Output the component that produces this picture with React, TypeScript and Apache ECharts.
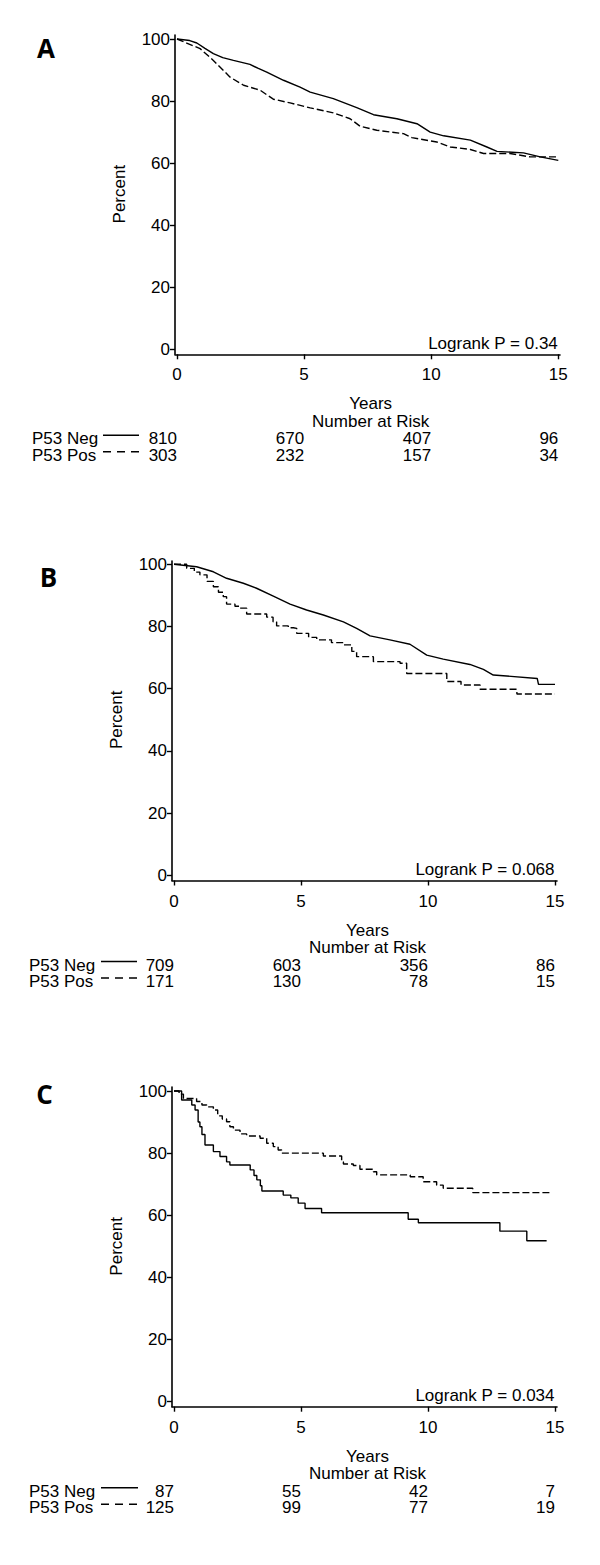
import React, { useEffect, useRef } from "react";
import * as echarts from "echarts";

// ---------------- data ----------------
const riskTimes = [0, 5, 10, 15];
const yTicks = [0, 20, 40, 60, 80, 100];
const panelLetters = ["A", "B", "C"];
const pValues = ["Logrank P = 0.34", "Logrank P = 0.068", "Logrank P = 0.034"];
const groupNames = ["P53 Neg", "P53 Pos"];

// [years, percent surviving]
const aNeg = [[0,100],[0.5,99.5],[0.78,98.7],[1.1,97],[1.43,95.3],[1.8,94],[2.22,93.1],[2.87,91.8],[3.2,90.5],[3.53,89.3],[4.19,86.7],[4.84,84.5],[5.24,82.9],[6.15,80.8],[7.07,77.9],[7.73,75.6],[8.65,74.3],[9.44,72.7],[9.96,70.0],[10.49,68.8],[11.54,67.4],[12.19,65.2],[12.59,63.8],[13.63,63.3],[14.29,62.0],[15.0,60.9]];
const aPos = [[0,100],[0.38,98.7],[0.91,96.9],[1.43,93.1],[2.09,87.7],[2.62,85.1],[3.27,83.5],[3.79,80.6],[4.45,79.4],[5.24,77.8],[6.15,76.2],[6.81,74.3],[7.2,71.9],[7.86,70.6],[8.91,69.5],[9.24,68.2],[10.22,66.8],[10.75,65.2],[11.54,64.4],[12.06,63.1],[13.1,63.1],[13.9,62.0],[15,62.0]];
const bNeg = [[0,100],[0.89,99.2],[1.55,97.6],[2.07,95.5],[2.73,93.9],[3.25,92.3],[3.91,89.8],[4.57,87.2],[5.22,85.3],[5.88,83.7],[6.67,81.5],[7.19,79.4],[7.72,77.0],[8.5,75.7],[9.29,74.3],[9.95,70.8],[10.6,69.5],[11.65,67.8],[12.18,66.2],[12.57,64.4],[14.3,63.3],[14.35,61.4],[15,61.4]];
const bPos = [[0,100],[0.5,98.7],[0.8,97.5],[1.02,96.6],[1.3,94.5],[1.55,92.8],[1.75,91],[1.94,89.6],[2.07,87.2],[2.4,86.5],[2.6,85.9],[2.86,84.0],[3.65,83.0],[3.9,81.5],[4.04,80.2],[4.5,79.6],[4.7,79.4],[4.83,77.8],[5.3,76.5],[5.62,75.7],[6.2,74.8],[6.67,74.1],[7.0,72],[7.19,70.3],[7.85,68.7],[8.9,68.2],[9.16,64.9],[10.74,62.3],[11.3,61.2],[12.05,59.8],[13.5,58.3],[15,58.3]];
const cNeg = [[0,100],[0.3,97.1],[0.7,95.5],[0.83,93.9],[0.95,90],[1.02,88.5],[1.1,86],[1.22,82.6],[1.55,80.5],[1.81,78.9],[2.07,77.2],[2.2,76.2],[3.0,74.6],[3.15,72.8],[3.26,71.4],[3.4,69.5],[3.46,67.8],[4.3,66.5],[4.6,65.6],[4.89,63.9],[5.16,62.2],[5.81,60.8],[9.22,58.7],[9.62,57.6],[12.83,54.9],[13.89,51.8],[14.67,51.8]];
const cPos = [[0,100],[0.2,99],[0.37,97.6],[0.89,96.6],[1.1,95.5],[1.29,94.9],[1.55,93.9],[1.72,92.0],[1.9,91],[2.07,90.1],[2.2,88.5],[2.34,87.4],[2.6,86.2],[2.86,85.5],[3.39,84.8],[3.65,83.2],[3.91,82.1],[4.1,81],[4.24,80.0],[5.88,79.1],[6.6,77.2],[6.67,76.5],[7.06,76.0],[7.32,74.8],[7.85,74.0],[7.98,73.0],[9.3,72.4],[9.81,70.8],[10.34,69.7],[10.6,68.7],[11.76,67.3],[14.87,67.3]];

const aNegRisk = [810, 670, 407, 96];
const aPosRisk = [303, 232, 157, 34];
const bNegRisk = [709, 603, 356, 86];
const bPosRisk = [171, 130, 78, 15];
const cNegRisk = [87, 55, 42, 7];
const cPosRisk = [125, 99, 77, 19];

const negCurves = [aNeg, bNeg, cNeg];
const posCurves = [aPos, bPos, cPos];
const negRisks = [aNegRisk, bNegRisk, cNegRisk];
const posRisks = [aPosRisk, bPosRisk, cPosRisk];
const stepModes: (false | "end")[][] = [[false, false], [false, "end"], ["end", "end"]];

// ---------------- layout (pixels) ----------------
const layouts = [
  { axisLeft: 175, x0: 177, x15: 558.3, axisRight: 560, axisTop: 35, y100: 39, y0: 349.3, axisBottom: 354.3, legendX: 32, lineX1: 103, lineX2: 139, letterX: 46, letterY: 48 },
  { axisLeft: 172, x0: 174, x15: 555, axisRight: 557, axisTop: 561, y100: 564.3, y0: 875.3, axisBottom: 880.5, legendX: 29, lineX1: 101, lineX2: 137, letterX: 48.5, letterY: 577 },
  { axisLeft: 172, x0: 174, x15: 555, axisRight: 557, axisTop: 1087, y100: 1091, y0: 1401.7, axisBottom: 1406.7, legendX: 29, lineX1: 101, lineX2: 138, letterX: 44.5, letterY: 1094 },
];

const FONT = "'Liberation Sans', Arial, Helvetica, sans-serif";
const FS = 17;

function textEl(text: string, x: number, y: number, align: string, extra: any = {}) {
  return {
    type: "text",
    x,
    y,
    rotation: extra.rotation || 0,
    style: {
      text,
      fill: "#000",
      fontSize: extra.fontSize || FS,
      fontFamily: extra.fontFamily || FONT,
      fontWeight: extra.fontWeight || "normal",
      align,
      verticalAlign: "middle",
      textAlign: align,
      textVerticalAlign: "middle",
    },
  };
}

function buildOption() {
  const grid: any[] = [];
  const xAxis: any[] = [];
  const yAxis: any[] = [];
  const series: any[] = [];
  const graphic: any[] = [];

  layouts.forEach((l, k) => {
    const ppy = (l.x15 - l.x0) / 15;
    const xMin = -(l.x0 - l.axisLeft) / ppy;
    const xMax = 15 + (l.axisRight - l.x15) / ppy;
    const ppu = (l.y0 - l.y100) / 100;
    const yMax = 100 + (l.y100 - l.axisTop) / ppu;
    const yMin = -(l.axisBottom - l.y0) / ppu;
    const tickLabelY = l.axisBottom + 20.5;

    grid.push({
      left: l.axisLeft,
      top: l.axisTop,
      width: l.axisRight - l.axisLeft,
      height: l.axisBottom - l.axisTop,
      containLabel: false,
      outerBoundsMode: "none",
    });

    // main x axis
    xAxis.push({
      type: "value",
      gridIndex: k,
      min: xMin,
      max: xMax,
      position: "bottom",
      splitLine: { show: false },
      axisLine: { show: true, onZero: false, lineStyle: { color: "#000", width: 1.6 } },
      axisTick: { show: true, length: 5, customValues: riskTimes, lineStyle: { color: "#000", width: 1.4 } },
      axisLabel: {
        customValues: riskTimes,
        color: "#000",
        fontSize: FS,
        fontFamily: FONT,
        margin: 20.5,
        verticalAlign: "middle",
        hideOverlap: false,
      },
    });
    // risk rows as label-only axes sharing the same scale
    [negRisks[k], posRisks[k]].forEach((risk, r) => {
      const rowY = tickLabelY + 64 + r * 16.5;
      xAxis.push({
        type: "value",
        gridIndex: k,
        min: xMin,
        max: xMax,
        position: "bottom",
        offset: rowY - l.axisBottom,
        splitLine: { show: false },
        axisLine: { show: false },
        axisTick: { show: false },
        axisLabel: {
          customValues: riskTimes,
          formatter: (v: number) => {
            const i = riskTimes.indexOf(Math.round(v));
            return i >= 0 ? String(risk[i]) : "";
          },
          color: "#000",
          fontSize: FS,
          fontFamily: FONT,
          margin: 0,
          align: "right",
          verticalAlign: "middle",
          hideOverlap: false,
        },
      });
    });

    yAxis.push({
      type: "value",
      gridIndex: k,
      min: yMin,
      max: yMax,
      splitLine: { show: false },
      axisLine: { show: true, onZero: false, lineStyle: { color: "#000", width: 1.6 } },
      axisTick: { show: true, length: 5, customValues: yTicks, lineStyle: { color: "#000", width: 1.4 } },
      axisLabel: {
        customValues: yTicks,
        color: "#000",
        fontSize: FS,
        fontFamily: FONT,
        margin: 5,
        hideOverlap: false,
      },
    });

    series.push({
      type: "line",
      name: groupNames[0],
      xAxisIndex: k * 3,
      yAxisIndex: k,
      data: negCurves[k],
      step: stepModes[k][0],
      showSymbol: false,
      symbol: "none",
      lineStyle: { color: "#000", width: 1.4, type: "solid" },
      silent: true,
    });
    series.push({
      type: "line",
      name: groupNames[1],
      xAxisIndex: k * 3,
      yAxisIndex: k,
      data: posCurves[k],
      step: stepModes[k][1],
      showSymbol: false,
      symbol: "none",
      lineStyle: { color: "#000", width: 1.4, type: [7, 3] },
      silent: true,
    });

    // panel letter
    graphic.push(textEl(panelLetters[k], l.letterX, l.letterY, "center", { fontSize: 26, fontWeight: "bold", fontFamily: "'Open Sans', 'Liberation Sans', Arial, sans-serif" }));
    // y axis title
    graphic.push(textEl("Percent", l.axisLeft - 56, (l.y100 + l.y0) / 2, "center", { rotation: Math.PI / 2 }));
    // logrank
    graphic.push(textEl(pValues[k], l.x15 - 0.5, l.axisBottom - 11, "right"));
    // x axis title and risk header
    const cx = (l.x0 + l.x15) / 2 + 3;
    graphic.push(textEl("Years", cx, tickLabelY + 29, "center"));
    graphic.push(textEl("Number at Risk", cx, tickLabelY + 46.5, "center"));
    // group labels and line samples
    groupNames.forEach((g, r) => {
      const rowY = tickLabelY + 64 + r * 16.5;
      graphic.push(textEl(g, l.legendX, rowY, "left"));
      graphic.push({
        type: "line",
        shape: { x1: l.lineX1, y1: rowY - 3.5, x2: l.lineX2, y2: rowY - 3.5 },
        style: { stroke: "#000", lineWidth: 1.4, lineDash: r === 0 ? null : [8, 6] },
      });
    });
  });

  return {
    animation: false,
    backgroundColor: "#fff",
    grid,
    xAxis,
    yAxis,
    series,
    graphic,
  };
}

export default function App() {
  const ref = useRef<HTMLDivElement>(null);
  useEffect(() => {
    if (!ref.current) return;
    const chart = echarts.init(ref.current, null, { renderer: "svg" });
    chart.setOption(buildOption() as any);
    return () => chart.dispose();
  }, []);
  return (
    <div
      ref={ref}
      style={{ position: "absolute", left: 0, top: 0, width: 600, height: 1565, background: "#fff" }}
    />
  );
}
